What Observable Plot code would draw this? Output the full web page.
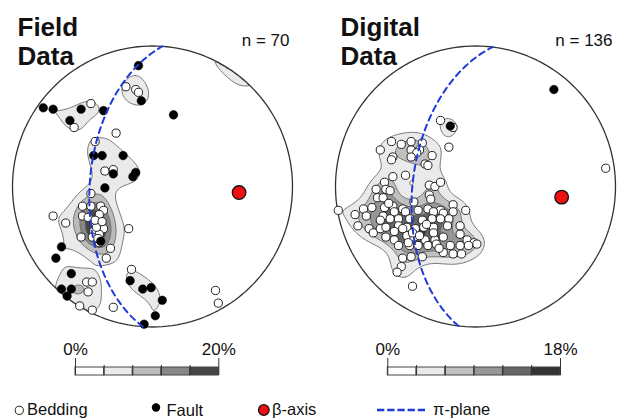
<!DOCTYPE html>
<html>
<head>
<meta charset="utf-8">
<script src="https://cdn.jsdelivr.net/npm/d3@7"></script>
<script src="https://cdn.jsdelivr.net/npm/@observablehq/plot@0.6"></script>
<style>
  body { margin: 0; background: #fff; font-family: "Liberation Sans", Arial, sans-serif; }
  #wrap { position: relative; width: 617px; height: 418px; overflow: hidden; background: #fff; }
  #main svg, #bars svg { display: block; }
  #bars { display: flex; height: 40px; }
  #legend { display: block; }
</style>
</head>
<body>
<div id="wrap">
  <div id="main"></div>
  <div id="bars"></div>
  <svg id="legend" width="617" height="40" font-family="Liberation Sans, Arial, sans-serif" font-size="16.5" fill="#111">
    <circle cx="19.3" cy="32.3" r="4.1" fill="#fff" stroke="#222" stroke-width="1"></circle>
    <text x="27" y="37.3">Bedding</text>
    <circle cx="156" cy="29.5" r="4.2" fill="#000"></circle>
    <text x="166.5" y="38">Fault</text>
    <circle cx="263.8" cy="32" r="5.3" fill="#ee1111" stroke="#111" stroke-width="1.3"></circle>
    <text x="272" y="37.3">β-axis</text>
    <line x1="377" x2="425" y1="32" y2="32" stroke="#1f3bd6" stroke-width="2.6" stroke-dasharray="7.3,2.9"></line>
    <text x="433" y="37.3">π-plane</text>
  </svg>
</div>
<script>
// ---------------- DATA ----------------
// Net coordinates in percent of the primitive radius (x = east, y = north), lower-hemisphere equal-area net.
const nets = ["Field", "Digital"];
const netTitles = ["Field\nData", "Digital\nData"];
const netCounts = ["n = 70", "n = 136"];

const fieldFault = [
  [-10,86],[-8,61],[-78,56],[-71,55],[-51,55],[-35,54],[-59,47],[15,51],
  [-42,22],[-36,22],[-21,22],[-12,10],[-14,7],[-28,9],[-34,-1],
  [-37,-39],[-65,-43],[-69,-51],[-58,-62],[-65,-73],[-58,-73],[-61,-78],
  [-16,-67],[-7,-73],[-1,-72],[7,-81],[2,-92],[-6,-98]
];
const fieldBedding = [
  [-19,71],[-12,69],[-10,67],[-44,59],[-56,42],[-26,38],[-41,32],[-34,11],[-28,12],[-44,-5],
  [-71,-21],[-62,-26],[-17,-30],[-50,-14],[-44,-14],[-37,-14],[-35,-17],[-38,-20],[-50,-21],[-46,-22],
  [-42,-27],[-42,-32],[-35,-30],[-51,-36],[-43,-36],[-38,-40],[-30,-44],[-33,-51],[-38,-34],[-40,-29],
  [-39,-37],[-41,-24],[-36,-25],
  [-47,-68],[-43,-68],[-46,-75],[-52,-85],[-43,-88],[-28,-86],[-15,-59],[45,-74],[47,-83]
];
const digitalFault = [[56,69],[-18,43]];
const digitalBedding = [
  [-60,32],[-53,30],[-46,32],[-38,31],[-19,28],[-68,26],[-46,26],[-40,26],[-42,24],[-59,21],
  [-60,19],[-46,21],[-31,22],[-36,16],[-34,15],[-59,7],[-50,8],[-65,3],[-71,-2],[-64,-2],
  [-61,-3],[-70,-8],[-66,-8],[-33,1],[-29,0],[-25,3],[-33,-6],[-44,-11],[-74,-15],[-65,-15],
  [-59,-14],[-52,-16],[-41,-17],[-34,-16],[-25,-17],[-16,-13],[-7,-17],
  [-62,-12],[-32,-9],[-80,-16],[-86,-20],[-78,-21],[-66,-21],[-58,-18],[-50,-18],[-30,-18],[-23,-19],[-16,-18],
  [-84,-28],[-76,-30],[-68,-24],[-61,-23],[-55,-23],[-47,-23],[-38,-24],[-31,-23],[-25,-23],[-19,-23],[-11,-28],
  [-73,-33],[-68,-30],[-64,-29],[-55,-28],[-49,-29],[-43,-30],[-37,-29],[-30,-29],[-20,-28],
  [-64,-36],[-58,-38],[-49,-35],[-44,-36],[-36,-38],[-29,-38],[-23,-36],[-11,-34],[-6,-38],[-1,-40],
  [-55,-42],[-47,-42],[-41,-42],[-34,-42],[-28,-41],[-18,-42],[-11,-42],[-5,-42],[1,-41],
  [-52,-51],[-46,-50],[-38,-50],[-23,-47],[-16,-48],[-10,-48],
  [-53,-57],[-56,-61],[-45,-71],
  [-98,-17],[93,13],[-16,42],[-25,47],
  [-45,-33],[-40,-35],[-52,-30],[-30,-33],[-35,-27],[-58,-32],[-48,-40],[-26,-44]
];
// beta axis (trend, plunge) and pi-plane (dip direction, dip), degrees
const betaTrend = [94, 97];
const betaPlunge = [38, 38];
const piDipDirection = [274, 277];
const piDip = [53, 53];
// contour levels (%) and their shades
const fieldLevels = [0, 4, 8, 12, 16, 20];
const fieldShades = ["#ffffff", "#eaeaea", "#bbbbbb", "#888888", "#474747"];
const digitalLevels = [0, 3, 6, 9, 12, 15, 18];
const digitalShades = ["#ffffff", "#eaeaea", "#c0c0c0", "#979797", "#666666", "#333333"];
const peakDensity = [21, 16];       // maximum density (%) reached in each net
const kernelWidth = [0.085, 0.075]; // smoothing (fraction of net radius)

// ---------------- GEOMETRY ----------------
const deg = Math.PI / 180;
function equalArea(trend, plunge) {
  const r = Math.SQRT2 * Math.sin((90 - plunge) * deg / 2);
  return [r * Math.sin(trend * deg), r * Math.cos(trend * deg)];
}
function greatCircle(dipDir, dip, net) {
  const a = dipDir * deg, d = dip * deg, s = a - Math.PI / 2;
  const S = [Math.sin(s), Math.cos(s), 0];
  const D = [Math.sin(a) * Math.cos(d), Math.cos(a) * Math.cos(d), Math.sin(d)];
  return d3.range(0, 180.5, 1).map(t => {
    const c = Math.cos(t * deg), si = Math.sin(t * deg);
    const v = [c * S[0] + si * D[0], c * S[1] + si * D[1], c * S[2] + si * D[2]];
    const plunge = Math.asin(Math.max(-1, Math.min(1, v[2]))) / deg;
    const trend = Math.atan2(v[0], v[1]) / deg;
    const [x, y] = equalArea(trend, plunge);
    return {net, x, y};
  });
}
const toPts = (arr, net, kind) => arr.map(([x, y]) => ({net, kind, x: x / 100, y: y / 100}));

const pointsByNet = [
  toPts(fieldBedding, "Field", "Bedding").concat(toPts(fieldFault, "Field", "Fault")),
  toPts(digitalBedding, "Digital", "Bedding").concat(toPts(digitalFault, "Digital", "Fault"))
];
const bedding = toPts(fieldBedding, "Field", "Bedding").concat(toPts(digitalBedding, "Digital", "Bedding"));
const faults = toPts(fieldFault, "Field", "Fault").concat(toPts(digitalFault, "Digital", "Fault"));
const betas = nets.map((net, i) => { const [x, y] = equalArea(betaTrend[i], betaPlunge[i]); return {net, x, y}; });
const piPlanes = nets.flatMap((net, i) => greatCircle(piDipDirection[i], piDip[i], net));
const primitive = nets.flatMap(net => d3.range(0, 361, 2).map(t => ({net, x: Math.cos(t * deg), y: Math.sin(t * deg)})));

// density contours (gaussian smoothing on the net, axial wrap across the primitive)
function densityContours(pts, net, sigma, peak, levels, shades) {
  const N = 240, lo = -1.2, step = 2.4 / N;
  const src = [];
  for (const p of pts) {
    src.push([p.x, p.y]);
    const r = Math.hypot(p.x, p.y);
    if (r > 0.8) { const k = Math.sqrt(Math.max(0, 2 - r * r)) / r; src.push([-p.x * k, -p.y * k]); }
  }
  const values = new Float64Array(N * N);
  const s2 = 2 * sigma * sigma, cut = 9 * s2;
  for (let j = 0; j < N; j++) {
    const y = -lo - (j + 0.5) * step;
    for (let i = 0; i < N; i++) {
      const x = lo + (i + 0.5) * step;
      if (x * x + y * y > 1) continue;
      let v = 0;
      for (const [px, py] of src) {
        const dx = x - px, dy = y - py, d2 = dx * dx + dy * dy;
        if (d2 < cut) v += Math.exp(-d2 / s2);
      }
      values[j * N + i] = v;
    }
  }
  const mx = d3.max(values);
  for (let k = 0; k < values.length; k++) values[k] = values[k] / mx * peak;
  const th = levels.slice(1, -1).filter(t => t < peak);
  return d3.contours().size([N, N]).thresholds(th)(values).map(c => ({
    type: "Feature",
    properties: {net, level: c.value, shade: shades[levels.indexOf(c.value)]},
    geometry: {
      type: "MultiPolygon",
      coordinates: c.coordinates.map(poly => poly.map(ring => ring.map(([gx, gy]) => [lo + gx * step, -lo - gy * step])))
    }
  }));
}
const contours = densityContours(pointsByNet[0], "Field", kernelWidth[0], peakDensity[0], fieldLevels, fieldShades)
  .concat(densityContours(pointsByNet[1], "Digital", kernelWidth[1], peakDensity[1], digitalLevels, digitalShades));

const titleData = nets.map((net, i) => ({net, title: netTitles[i]}));
const countData = nets.map((net, i) => ({net, count: netCounts[i]}));

// ---------------- MAIN PLOT ----------------
const font = "Liberation Sans, Arial, sans-serif";
const main = Plot.plot({
  width: 617, height: 338,
  marginLeft: 11, marginRight: 1, marginTop: 0, marginBottom: 0,
  fx: {domain: nets, paddingInner: 0.1327, paddingOuter: 0, axis: null, label: null},
  x: {domain: [-1, 1], axis: null},
  y: {domain: [-1.0819, 1.3238], axis: null},
  color: {type: "identity"},
  style: {fontFamily: font, background: "white", overflow: "visible"},
  marks: [
    Plot.geo(contours, {fx: d => d.properties.net, fill: d => d.properties.shade, stroke: "#666", strokeWidth: 0.9}),
    Plot.line(primitive, {fx: "net", x: "x", y: "y", z: "net", stroke: "#333", strokeWidth: 1.3}),
    Plot.dot(bedding, {fx: "net", x: "x", y: "y", r: 4.1, fill: "white", stroke: "#222", strokeWidth: 1}),
    Plot.dot(faults, {fx: "net", x: "x", y: "y", r: 4.3, fill: "black", stroke: "black", strokeWidth: 0.5}),
    Plot.line(piPlanes, {fx: "net", x: "x", y: "y", z: "net", stroke: "#1f3bd6", strokeWidth: 2, strokeDasharray: "6,4.5"}),
    Plot.dot(betas, {fx: "net", x: "x", y: "y", r: 6.8, fill: "#ee1111", stroke: "#111", strokeWidth: 1.3}),
    Plot.text(titleData, {fx: "net", text: "title", frameAnchor: "top-left", textAnchor: "start", lineAnchor: "top",
      dx: 5, dy: 13.7, fontSize: 26, fontWeight: "bold", lineHeight: 1.154, fill: "#111"}),
    Plot.text(countData, {fx: "net", text: "count", frameAnchor: "top-right", textAnchor: "end", lineAnchor: "bottom",
      dx: -3, dy: 45, fontSize: 17, fill: "#111"})
  ]
});
document.getElementById("main").appendChild(main);

// ---------------- COLOUR BARS ----------------
function colorbar(levels, shades, width, ml, mr) {
  const boxes = levels.slice(0, -1).map((l, i) => ({lo: l, hi: levels[i + 1], shade: shades[i]}));
  const ends = [levels[0], levels[levels.length - 1]];
  return Plot.plot({
    width, height: 40, marginLeft: ml, marginRight: mr, marginTop: 29, marginBottom: 3,
    x: {domain: ends, axis: null},
    y: {axis: null},
    color: {type: "identity"},
    style: {fontFamily: font, background: "white", overflow: "visible"},
    marks: [
      Plot.rect(boxes, {x1: "lo", x2: "hi", fill: "shade", stroke: "#444", strokeWidth: 1}),
      Plot.tickX(levels.slice(1, -1), {x: d => d, stroke: "#333", strokeWidth: 1, insetTop: -2}),
      Plot.tickX(ends, {x: d => d, stroke: "#333", strokeWidth: 1, insetTop: -9}),
      Plot.text(ends, {x: d => d, text: d => `${d}%`, frameAnchor: "top", lineAnchor: "bottom", dy: -13, fontSize: 17, fill: "#111"})
    ]
  });
}
const bars = document.getElementById("bars");
bars.appendChild(colorbar(fieldLevels, fieldShades, 308, 75, 89.7));
bars.appendChild(colorbar(digitalLevels, digitalShades, 309, 79.3, 57));
</script>
</body>
</html>
